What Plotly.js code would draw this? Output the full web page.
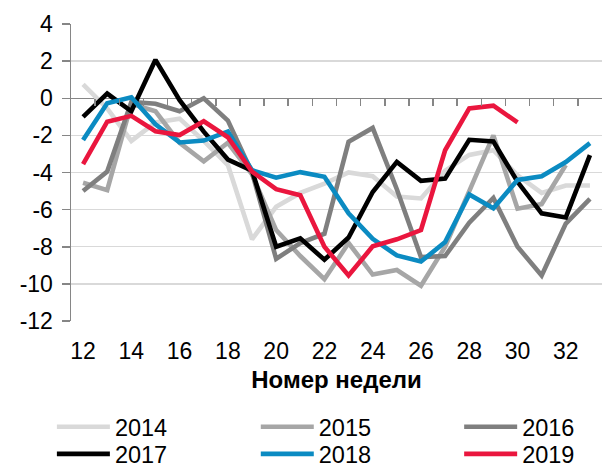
<!DOCTYPE html>
<html>
<head>
<meta charset="utf-8">
<script src="https://cdn.plot.ly/plotly-3.0.1.min.js"></script>
<style>
  html, body { margin: 0; padding: 0; background: #fff; }
  #chart { width: 602px; height: 468px; }
</style>
</head>
<body>
<div id="chart"></div>
<script>
// ---- data ----
const weeks = [12, 13, 14, 15, 16, 17, 18, 19, 20, 21, 22, 23, 24, 25, 26, 27, 28, 29, 30, 31, 32, 33];
const tickLabelWeeks = [12, 14, 16, 18, 20, 22, 24, 26, 28, 30, 32];
const seriesNames = ["2014", "2015", "2016", "2017", "2018", "2019"];
const y2014 = [0.75, -0.55, -2.3, -1.3, -1.1, -2.3, -3.6, -7.6, -5.85, -5.1, -4.6, -4.0, -4.2, -5.3, -5.4, -3.9, -3.05, -2.8, -4.15, -5.1, -4.7, -4.7];
const y2015 = [-4.55, -4.95, -0.3, -0.7, -2.4, -3.4, -2.4, -4.1, -7.1, -8.5, -9.75, -7.8, -9.5, -9.25, -10.1, -8.0, -5.0, -2.0, -5.95, -5.7, -3.6];
const y2016 = [-5.0, -3.95, -0.2, -0.3, -0.7, 0.0, -1.2, -4.0, -8.65, -7.8, -7.3, -2.35, -1.6, -4.9, -8.56, -8.5, -6.7, -5.37, -8.0, -9.55, -6.75, -5.42];
const y2017 = [-1.0, 0.25, -0.7, 2.07, -0.1, -1.8, -3.3, -3.9, -8.0, -7.55, -8.7, -7.5, -5.05, -3.43, -4.45, -4.33, -2.24, -2.33, -4.5, -6.2, -6.42, -3.06];
const y2018 = [-2.25, -0.27, 0.05, -1.4, -2.38, -2.28, -1.8, -3.88, -4.28, -3.98, -4.23, -6.2, -7.57, -8.47, -8.8, -7.75, -5.18, -5.93, -4.4, -4.2, -3.44, -2.42];
const y2019 = [-3.55, -1.26, -0.95, -1.78, -1.98, -1.24, -2.1, -3.95, -4.9, -5.23, -8.0, -9.55, -7.98, -7.6, -7.1, -2.8, -0.55, -0.4, -1.3];
const yTickVals = [4, 2, 0, -2, -4, -6, -8, -10, -12];

// ---- styling ----
const colors = ["#d9d9d9", "#a6a6a6", "#7f7f7f", "#000000", "#0b8bc2", "#ea163e"];
const allY = [y2014, y2015, y2016, y2017, y2018, y2019];
const FONT = "Arial, 'Liberation Sans', sans-serif";
const axisGray = "#868686";

// legend placement: 3 columns x 2 rows (paper coords)
const legendX = [-0.036, 0.348, 0.731];
const legendY = [-0.357, -0.448];

const traces = allY.map((ys, i) => ({
  type: "scatter",
  mode: "lines",
  name: seriesNames[i],
  x: weeks.slice(0, ys.length),
  y: ys,
  line: { color: colors[i], width: 4.6 },
  xaxis: "x",
  yaxis: "y",
  legend: i === 0 ? "legend" : "legend" + (i + 1),
  hoverinfo: "skip"
}));

const layout = {
  width: 602,
  height: 468,
  margin: { l: 71, r: 0, t: 24, b: 147, autoexpand: false },
  paper_bgcolor: "#ffffff",
  plot_bgcolor: "#ffffff",
  font: { family: FONT, size: 23, color: "#000" },
  showlegend: true,
  xaxis: {
    range: [11.5, 33.5],
    tickmode: "array",
    tickvals: tickLabelWeeks,
    ticktext: tickLabelWeeks.map(String),
    ticks: "",
    showline: false,
    showgrid: false,
    zeroline: false,
    ticklabelstandoff: 14,
    tickfont: { family: FONT, size: 23, color: "#000" },
    title: { text: "<b>Номер недели</b>", font: { family: FONT, size: 24, color: "#000" }, standoff: 8 },
    fixedrange: true
  },
  xaxis2: {
    overlaying: "x",
    anchor: "free",
    position: 0.75,
    range: [11.5, 33.5],
    tickmode: "array",
    tickvals: weeks.slice(0, weeks.length - 1).map(w => w + 0.5),
    showticklabels: false,
    ticks: "outside",
    ticklen: 7,
    tickwidth: 1.5,
    tickcolor: axisGray,
    showline: false,
    showgrid: false,
    zeroline: false,
    fixedrange: true
  },
  yaxis: {
    range: [-12, 4],
    tickmode: "array",
    tickvals: yTickVals,
    ticktext: yTickVals.map(String),
    ticks: "outside",
    ticklen: 8,
    tickwidth: 1.5,
    tickcolor: axisGray,
    showline: true,
    linecolor: axisGray,
    linewidth: 1.5,
    showgrid: true,
    gridcolor: "#d9d9d9",
    gridwidth: 1.3,
    zeroline: true,
    zerolinecolor: axisGray,
    zerolinewidth: 1.5,
    ticklabelstandoff: 4,
    tickfont: { family: FONT, size: 23, color: "#000" },
    fixedrange: true
  }
};

// six one-item legends laid out in a 3x2 grid
for (let i = 0; i < 6; i++) {
  const key = i === 0 ? "legend" : "legend" + (i + 1);
  layout[key] = {
    x: legendX[i % 3],
    y: legendY[Math.floor(i / 3)],
    xanchor: "left",
    yanchor: "middle",
    orientation: "v",
    bgcolor: "rgba(0,0,0,0)",
    borderwidth: 0,
    itemwidth: 53,
    font: { family: FONT, size: 23.5, color: "#000" }
  };
}

// an invisible trace on x2 so that overlay axis is drawn
traces.push({
  type: "scatter", mode: "lines", x: [weeks[0]], y: [0], xaxis: "x2", yaxis: "y",
  showlegend: false, hoverinfo: "skip", line: { width: 0 }, opacity: 0
});

Plotly.newPlot("chart", traces, layout, { staticPlot: true, displayModeBar: false });
</script>
</body>
</html>
